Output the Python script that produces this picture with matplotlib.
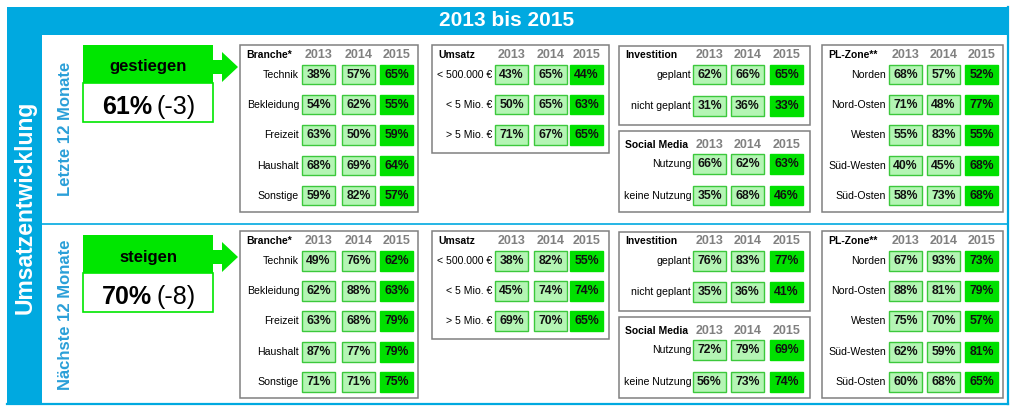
import matplotlib
matplotlib.use("Agg")
import matplotlib.pyplot as plt
from matplotlib.patches import Rectangle, Polygon

plt.rcParams['font.family'] = ['Liberation Sans', 'DejaVu Sans']

# --- data ---
years = ['2013', '2014', '2015']
periods = ['Letzte 12 Monate', 'Nächste 12 Monate']
headline = ['gestiegen', 'steigen']
total = [61, 70]
delta = [-3, -8]

branche_labels = ['Technik', 'Bekleidung', 'Freizeit', 'Haushalt', 'Sonstige']
branche_last = [[38, 57, 65], [54, 62, 55], [63, 50, 59], [68, 69, 64], [59, 82, 57]]
branche_next = [[49, 76, 62], [62, 88, 63], [63, 68, 79], [87, 77, 79], [71, 71, 75]]

umsatz_labels = ['< 500.000 €', '< 5 Mio. €', '> 5 Mio. €']
umsatz_last = [[43, 65, 44], [50, 65, 63], [71, 67, 65]]
umsatz_next = [[38, 82, 55], [45, 74, 74], [69, 70, 65]]

invest_labels = ['geplant', 'nicht geplant']
invest_last = [[62, 66, 65], [31, 36, 33]]
invest_next = [[76, 83, 77], [35, 36, 41]]

social_labels = ['Nutzung', 'keine Nutzung']
social_last = [[66, 62, 63], [35, 68, 46]]
social_next = [[72, 79, 69], [56, 73, 74]]

zone_labels = ['Norden', 'Nord-Osten', 'Westen', 'Süd-Westen', 'Süd-Osten']
zone_last = [[68, 57, 52], [71, 48, 77], [55, 83, 55], [40, 45, 68], [58, 73, 68]]
zone_next = [[67, 93, 73], [88, 81, 79], [75, 70, 57], [62, 59, 81], [60, 68, 65]]

BLUE = '#00a9e0'
LBLUE = '#2a9fd8'
GREEN = '#00e600'
CELL = '#b4f5b4'
CELL_EDGE = '#3cc83c'
GREY = '#808080'

fig = plt.figure(figsize=(10.14, 4.11), dpi=100)
ax = fig.add_axes([0, 0, 1, 1])
ax.set_xlim(0, 1014)
ax.set_ylim(411, 0)
ax.axis('off')


def table(box, title, header_y, label_x, cell_x, row_y, labels, values, cw=33, ch=19.5):
    x0, y0, x1, y1 = box
    ax.add_patch(Rectangle((x0, y0), x1 - x0, y1 - y0, fill=False, ec=GREY, lw=1.1))
    ax.text(x0 + 6, y0 + header_y, title, fontsize=7.5, fontweight='bold', va='center', ha='left')
    for j, yr in enumerate(years):
        ax.text(x0 + cell_x[j] + cw / 2, y0 + header_y, yr, fontsize=9, fontweight='bold',
                color=GREY, ha='center', va='center')
    for i, lab in enumerate(labels):
        yy = y0 + row_y[i]
        ax.text(x0 + label_x, yy + ch / 2, lab, fontsize=7.6, ha='right', va='center')
        for j in range(3):
            last = j == 2
            ax.add_patch(Rectangle((x0 + cell_x[j], yy), cw, ch,
                                   fc='#00e000' if last else CELL,
                                   ec='#00e000' if last else CELL_EDGE, lw=1))
            ax.text(x0 + cell_x[j] + cw / 2, yy + ch / 2 + 0.5, f"{values[i][j]}%",
                    fontsize=8.8, fontweight='bold', color='#111111', ha='center', va='center')


# --- frame ---
ax.add_patch(Rectangle((7, 7), 35, 397, color=BLUE, lw=0))
ax.add_patch(Rectangle((7, 7), 1001, 28, color=BLUE, lw=0))
ax.plot([1007.5, 1007.5], [7, 404], color=BLUE, lw=1.6)
ax.plot([7, 1008], [403.5, 403.5], color=BLUE, lw=1.6)
ax.plot([42, 1008], [224, 224], color=BLUE, lw=1.2)

ax.text(507, 21, '2013 bis 2015', color='white', fontsize=15, fontweight='bold',
        family=['Liberation Sans Narrow', 'Liberation Sans'], ha='center', va='center')
ax.text(25, 207, 'Umsatzentwicklung', color='white', fontsize=16.5, fontweight='bold',
        rotation=90, ha='center', va='center')

sections = [
    (branche_last, umsatz_last, invest_last, social_last, zone_last),
    (branche_next, umsatz_next, invest_next, social_next, zone_next),
]
tops = [45, 231]
kpi_tops = [45, 235]
label_ys = [129, 315]

for k, (br, um, inv, soc, zo) in enumerate(sections):
    t = tops[k]
    kt = kpi_tops[k]
    # side label
    ax.text(65, label_ys[k], periods[k], color=LBLUE, fontsize=12, fontweight='bold',
            rotation=90, ha='center', va='center')
    # KPI box
    ax.add_patch(Rectangle((83, kt), 130, 38, color=GREEN, lw=0))
    ax.add_patch(Rectangle((83, kt + 38), 130, 39, fc='white', ec=GREEN, lw=1.2))
    ax.text(148, kt + 22, headline[k], fontsize=12, fontweight='bold', ha='center', va='center')
    ax.text(152, kt + 62, f"{total[k]}%", fontsize=18, fontweight='bold', ha='right', va='center')
    ax.text(157, kt + 62, f"({delta[k]})", fontsize=18, ha='left', va='center')
    ym = kt + 22
    ax.add_patch(Polygon([(213, ym - 7), (222, ym - 7), (222, ym - 15), (238, ym),
                          (222, ym + 15), (222, ym + 7), (213, ym + 7)], color=GREEN, lw=0))
    # tables
    table((240, t, 418, t + 167), 'Branche*', 10, 59, [62, 102, 140],
          [20, 50, 80, 111, 141], branche_labels, br)
    table((432, t, 609, t + 108), 'Umsatz', 10, 60, [63, 102, 138],
          [20, 50, 80], umsatz_labels, um)
    table((619, t + 1, 810, t + 80), 'Investition', 9, 72, [74, 112, 151],
          [19, 50], invest_labels, inv)
    table((619, t + 86, 810, t + 167), 'Social Media', 14, 72, [74, 112, 151],
          [23, 55], social_labels, soc)
    table((822, t, 1003, t + 167), 'PL-Zone**', 10, 64, [67, 105, 143],
          [20, 50, 80, 111, 141], zone_labels, zo)

fig.savefig('out.png', dpi=100)
